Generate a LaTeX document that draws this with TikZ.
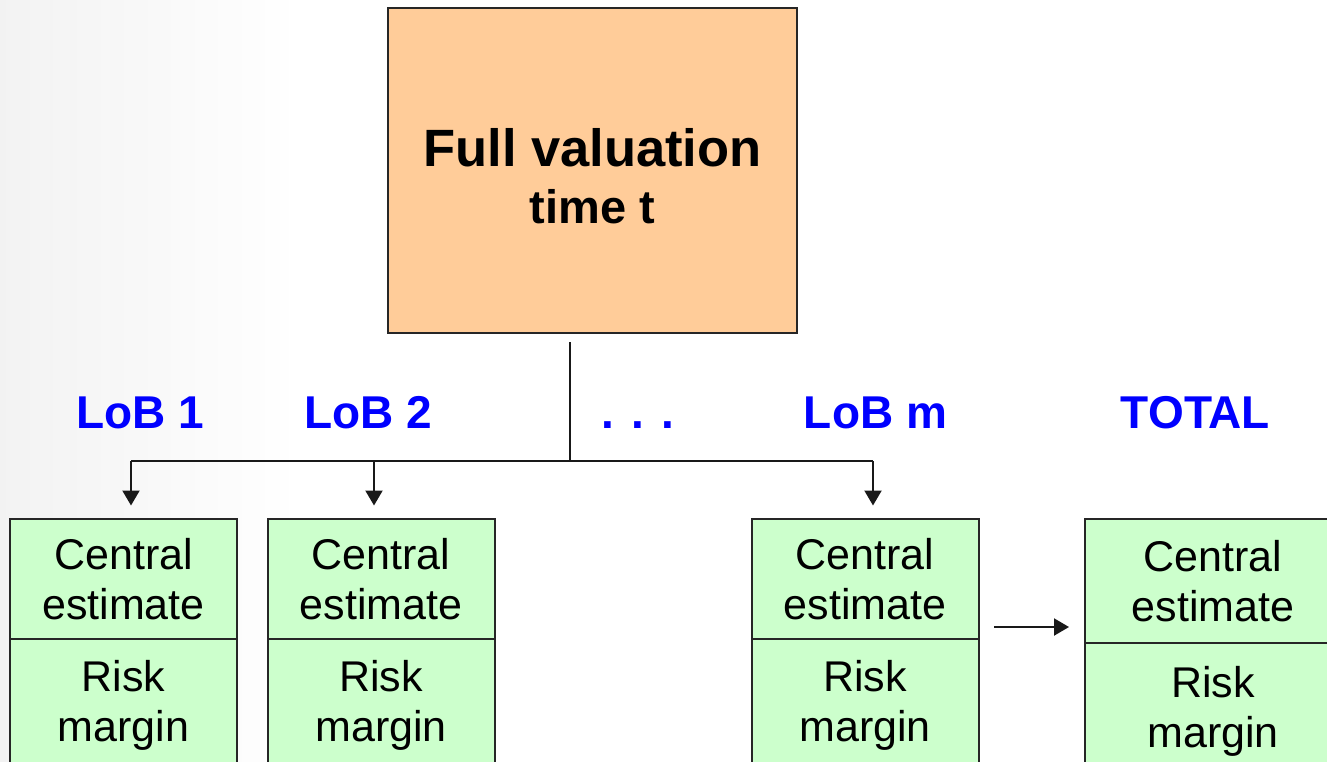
\documentclass[tikz,border=0pt]{standalone}
\usepackage{fontspec}
\setmainfont{Liberation Sans}
\usetikzlibrary{arrows.meta}
\definecolor{valfill}{HTML}{FFCC99}
\definecolor{cellfill}{HTML}{CCFFCC}
\definecolor{lobblue}{HTML}{0000FF}
\begin{document}
\begin{tikzpicture}[x=1pt,y=-1pt,
  frame/.style={draw=black!85, line width=2pt, inner sep=0pt, outer sep=0pt},
  cell/.style={frame, fill=cellfill, minimum width=227pt, align=center,
    font=\fontsize{43}{50}\selectfont},
  lob/.style={anchor=base, inner sep=0pt, text=lobblue,
    font=\fontsize{46}{50}\selectfont\bfseries},
  head/.style={anchor=base, inner sep=0pt},
  wire/.style={line width=2.1pt, draw=black!90},
  arr/.style={wire, -{Triangle[length=15pt,width=17pt]}},
]
\useasboundingbox (0,0) rectangle (1327,761);
\clip (0,0) rectangle (1327,761);

% faint grey on the left edge of the page
\shade[left color=black!5, right color=white] (0,0) rectangle (300,761);

% full valuation box
\node[frame, fill=valfill, minimum width=409pt, minimum height=325pt] (fv) at (592.5,170.5) {};
\node[head, font=\fontsize{52.5}{60}\selectfont\bfseries] (fvA) at (592.5,166) {Full valuation};
\node[head, font=\fontsize{47}{55}\selectfont\bfseries] (fvB) at (592.5,223) {time t};

% line-of-business headings
\node[lob] (l1) at (140.5,428) {LoB 1};
\node[lob] (l2) at (368.5,428) {LoB 2};
\node[lob] (ld) at (638,428) {. . .};
\node[lob] (lm) at (875.5,428) {LoB m};
\node[lob] (lt) at (1195.5,428) {TOTAL};

% result boxes: central estimate over risk margin
\node[cell, minimum height=121pt] (c1) at (123.5,579) {Central\\estimate};
\node[cell, minimum height=132pt] (r1) at (123.5,705) {Risk\\margin};
\node[cell, minimum height=121pt] (c2) at (381,579) {Central\\estimate};
\node[cell, minimum height=132pt] (r2) at (381,705) {Risk\\margin};
\node[cell, minimum height=121pt] (cm) at (865,579) {Central\\estimate};
\node[cell, minimum height=132pt] (rm) at (865,705) {Risk\\margin};
\node[cell, minimum width=256pt, minimum height=124pt] (ct) at (1213,581) {Central\\estimate};
\node[cell, minimum width=256pt, minimum height=136pt] (rt) at (1213,711) {Risk\\margin};

% distribution tree
\coordinate (stem) at (570,342);
\coordinate (fork) at (570,461);
\coordinate (fl) at (131,461);
\coordinate (f2) at (374,461);
\coordinate (fr) at (873,461);
\draw[wire] (stem) -- (fork);
\draw[wire] (fl) -- (fr);
\draw[arr, shorten >=13pt] (fl) -- (fl |- c1.north);
\draw[arr, shorten >=13pt] (f2) -- (f2 |- c2.north);
\draw[arr, shorten >=13pt] (fr) -- (fr |- cm.north);

% aggregation into the total
\coordinate (agg) at (994,627);
\draw[arr, shorten >=16pt] (agg) -- (agg -| ct.west);
\end{tikzpicture}
\end{document}
